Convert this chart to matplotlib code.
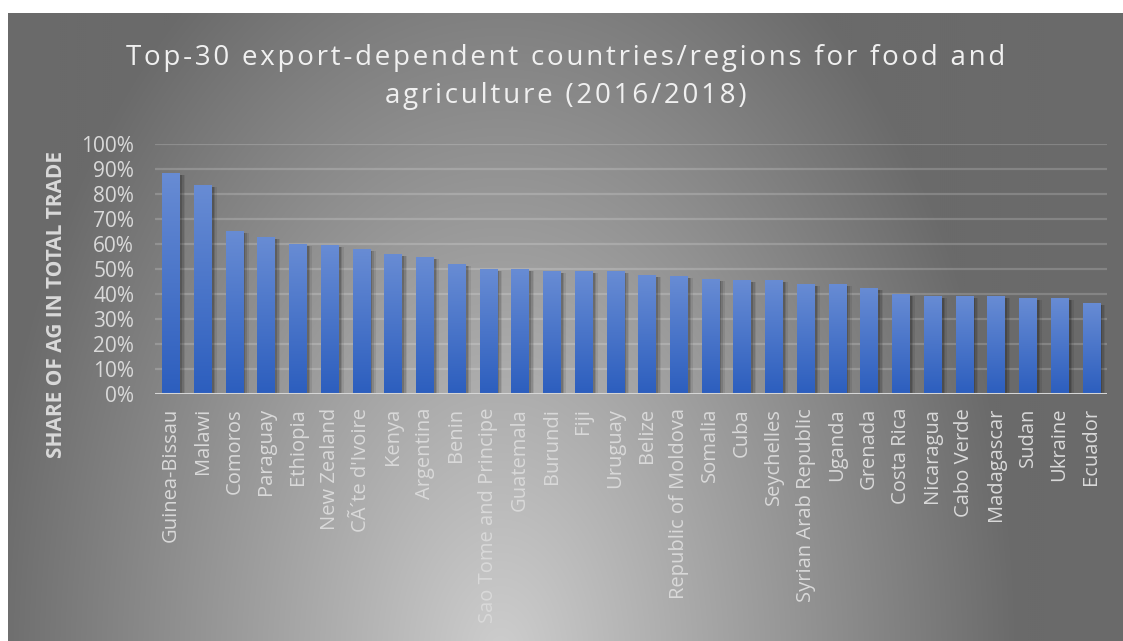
import numpy as np
import matplotlib
matplotlib.use('Agg')
import matplotlib.pyplot as plt
from matplotlib.ticker import PercentFormatter

countries = ['Guinea-Bissau','Malawi','Comoros','Paraguay','Ethiopia','New Zealand',
             "CÃ´te d'Ivoire",'Kenya','Argentina','Benin','Sao Tome and Principe',
             'Guatemala','Burundi','Fiji','Uruguay','Belize','Republic of Moldova',
             'Somalia','Cuba','Seychelles','Syrian Arab Republic','Uganda','Grenada',
             'Costa Rica','Nicaragua','Cabo Verde','Madagascar','Sudan','Ukraine','Ecuador']
share = [88.4,83.5,65.1,62.7,60.2,59.8,58.0,56.0,54.7,52.0,49.9,
         49.9,49.1,49.1,49.1,47.5,47.1,45.9,45.5,45.5,44.2,44.2,42.6,
         40.2,39.4,39.1,39.1,38.3,38.3,36.5]
yticks = np.arange(0,101,10)
title_lines = ['Top-30 export-dependent countries/regions for food and','agriculture (2016/2018)']

TXT = '#d9d9d9'
FONT = 'Open Sans'
W,H = 1123,641

fig = plt.figure(figsize=(W/100.0,H/100.0),dpi=100,facecolor='white')

# Background gradient (chart area)
bg = fig.add_axes([8.0/W,0.0,(W-8.0)/W,(H-13.0)/H])
bg.set_axis_off()
ny,nx = 314,558
yy,xx = np.mgrid[0:ny,0:nx]
px = 8+xx*(W-8.0)/nx
py = 13+yy*(H-13.0)/ny
r = np.sqrt(np.square((px-500)/560.0)+np.square((py-660)/900.0))
val = np.clip(206-108*r,106,210)/255.0
bg.imshow(np.dstack([val,val,val]),aspect='auto',extent=(0,1,0,1),origin='upper',interpolation='bilinear')
bg.set_xlim(0,1)
bg.set_ylim(0,1)

ax = fig.add_axes([155.0/W,1-394.0/H,952.0/W,250.0/H])
ax.patch.set_alpha(0)
x = np.arange(len(countries))
bw = 0.54

# soft shadow
for k,a in zip([0.16,0.11,0.06],[0.08,0.12,0.16]):
    ax.bar(x+k,share,width=bw+0.04,bottom=-0.8,color='black',alpha=a,zorder=2,linewidth=0)

bars = ax.bar(x,share,width=bw,color='#4472c4',zorder=3,linewidth=0)
grad = np.linspace(0,1,256).reshape(-1,1)
top = np.array([0x68,0x8c,0xd4])/255.0
bot = np.array([0x2c,0x5e,0xbe])/255.0
cimg = (top[None,None,:]*(1-grad[:,:,None])+bot[None,None,:]*grad[:,:,None])
for b in bars:
    x0 = b.get_x()
    h = b.get_height()
    im = ax.imshow(cimg,extent=(x0,x0+bw,0,h),aspect='auto',zorder=4,origin='upper')
    im.set_clip_path(b)

ax.set_xlim(-0.5,len(countries)-0.5)
ax.set_ylim(0,100)
ax.set_yticks(yticks)
ax.yaxis.set_major_formatter(PercentFormatter(decimals=0))
for v in yticks[1:]:
    ax.axhline(v,color='white',alpha=0.18,lw=1.6,zorder=1)
ax.axhline(0,color='#d6d6d6',lw=2.2,zorder=5)
for s in ax.spines.values():
    s.set_visible(False)
ax.tick_params(length=0,colors=TXT)
ax.set_xticks(x)
ax.set_xticklabels(countries,rotation=90,fontsize=14.5,fontfamily=FONT,color=TXT)
for t in ax.get_yticklabels():
    t.set_fontsize(15)
    t.set_fontfamily(FONT)
    t.set_color(TXT)
ax.tick_params(axis='x',pad=10)
ax.tick_params(axis='y',pad=15)

fig.text(57.0/W,1-304.0/H,'SHARE OF AG IN TOTAL TRADE',rotation=90,ha='center',va='center',
         fontsize=15,fontweight='bold',fontfamily=FONT,color=TXT)

# title with letter spacing (hair spaces between characters)
hs = '\u200a'
title = '\n'.join([hs.join(list(l)) for l in title_lines])
fig.text(566.0/W,1-77.0/H,title,ha='center',va='center',fontsize=20,
         fontfamily=[FONT,'DejaVu Sans'],color='#f0f0f0',linespacing=1.45)

fig.savefig('out.png',dpi=100,facecolor='white')
